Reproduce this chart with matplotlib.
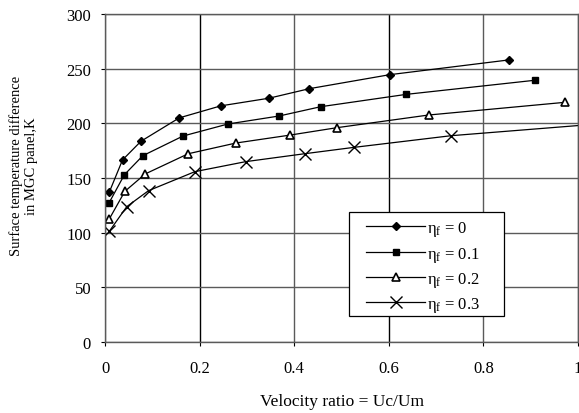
import matplotlib
matplotlib.use("Agg")
import matplotlib.pyplot as plt
from matplotlib.patches import Rectangle

plt.rcParams['font.family'] = ['Liberation Serif', 'DejaVu Serif']
plt.rcParams['mathtext.fontset'] = 'custom'
plt.rcParams['mathtext.rm'] = 'Liberation Serif'
plt.rcParams['mathtext.it'] = 'Liberation Serif'

x0 = [0.009, 0.037, 0.076, 0.157, 0.245, 0.347, 0.432, 0.602, 0.854]
y0 = [137, 166.5, 183.6, 205, 216, 223, 231.7, 244.5, 258]

x1 = [0.008, 0.041, 0.080, 0.165, 0.260, 0.368, 0.456, 0.637, 0.909]
y1 = [126.8, 153, 170.4, 188.4, 199.4, 206.7, 215.2, 226.5, 239.4]

x2 = [0.009, 0.042, 0.085, 0.176, 0.277, 0.392, 0.490, 0.684, 0.972]
y2 = [112.5, 137.8, 153.7, 172.2, 182, 189.3, 196, 207.6, 219.2]

x3 = [0.009, 0.046, 0.092, 0.190, 0.298, 0.422, 0.526, 0.732, 1.03]
y3 = [101.2, 123.8, 138.4, 155.8, 165, 172.2, 178, 188.7, 199]

labels = [r'$\mathregular{\eta_f}$ = 0', r'$\mathregular{\eta_f}$ = 0.1',
          r'$\mathregular{\eta_f}$ = 0.2', r'$\mathregular{\eta_f}$ = 0.3']

xticks = [0, 0.2, 0.4, 0.6, 0.8, 1]
xticklabels = ['0', '0.2', '0.4', '0.6', '0.8', '1']
yticks = [0, 50, 100, 150, 200, 250, 300]

fig = plt.figure(figsize=(5.79, 4.14), dpi=100)
ax = fig.add_axes([105/579, 1-343/414, 473/579, 328/414])

ax.plot(x0, y0, color='black', lw=0.9, marker='D', ms=4.5, mfc='black', mec='black', label=labels[0])
ax.plot(x1, y1, color='black', lw=0.9, marker='s', ms=4.5, mfc='black', mec='black', label=labels[1])
ax.plot(x2, y2, color='black', lw=0.9, marker='^', ms=5.5, mfc='white', mec='black', mew=1.2, label=labels[2])
ax.plot(x3, y3, color='black', lw=0.9, marker='x', ms=8.5, mec='black', mew=1.0, label=labels[3])

ax.set_xlim(0, 1)
ax.set_ylim(0, 300)
ax.set_xticks(xticks)
ax.set_xticklabels(xticklabels)
ax.set_yticks(yticks)
ax.grid(True, color='#5a5a5a', lw=1.0)
ax.set_axisbelow(True)
xgl = ax.get_xgridlines()
for i in (1, 3):
    xgl[i].set_color('black')
for s in ax.spines.values():
    s.set_color('#5a5a5a')
    s.set_linewidth(1.0)
ax.tick_params(axis='both', labelsize=12, length=3, color='black', direction='out')
ax.tick_params(axis='x', pad=10)
ax.tick_params(axis='y', pad=7)

ax.set_xlabel('Velocity ratio = Uc/Um', fontsize=12.5, labelpad=12)
ax.set_ylabel('Surface temperature difference\nin MGC panel,K', fontsize=10.5, labelpad=20.5,
              linespacing=1.15, y=0.54)

# legend frame
frame = Rectangle((349/579, 1-317/414), 155/579, 104/414, transform=fig.transFigure,
                  facecolor='white', edgecolor='black', lw=0.9, zorder=4.5)
ax.add_artist(frame)

leg = ax.legend(loc='upper left', bbox_to_anchor=(366/579, 1-220.5/414), bbox_transform=fig.transFigure,
                fontsize=12, handlelength=3.54, frameon=False,
                borderpad=0, labelspacing=0.37, handletextpad=0.1, borderaxespad=0,
                handleheight=0.8)
leg.set_zorder(5)

fig.savefig('out.png', dpi=100)
